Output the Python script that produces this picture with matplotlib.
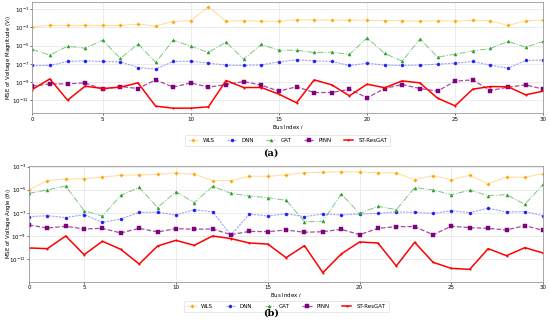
import numpy as np
import matplotlib
matplotlib.use('Agg')
import matplotlib.pyplot as plt
from matplotlib.ticker import FixedLocator, NullLocator

# bus indices (top panel starts at bus 1, bottom at bus 2)
bus_mag = list(range(1, 31))
bus_ang = list(range(2, 31))

# log10 of MSE, voltage magnitude
wls_mag = [-2.94, -2.79, -2.79, -2.79, -2.79, -2.79, -2.65, -2.83, -2.36, -2.25,
           -0.74, -2.32, -2.25, -2.32, -2.32, -2.17, -2.17, -2.21, -2.21, -2.21,
           -2.25, -2.25, -2.32, -2.25, -2.32, -2.21, -2.28, -2.79, -2.28, -2.21]
dnn_mag = [-7.19, -7.19, -6.75, -6.68, -6.75, -6.79, -7.41, -7.59, -6.75, -6.71,
           -6.93, -7.15, -7.19, -7.12, -6.79, -6.57, -6.68, -6.75, -7.19, -6.93,
           -7.15, -7.19, -7.15, -7.04, -6.93, -6.75, -7.15, -7.48, -6.64, -6.60]
gat_mag = [-5.43, -6.05, -5.07, -5.29, -4.41, -6.42, -4.81, -6.86, -4.41, -5.07,
           -5.76, -4.63, -6.49, -4.88, -5.51, -5.51, -5.76, -5.73, -5.98, -4.15,
           -5.87, -6.71, -4.26, -6.27, -5.95, -5.58, -5.32, -4.55, -5.18, -4.55]
pinn_mag = [-9.46, -9.21, -9.21, -9.10, -9.79, -9.50, -9.72, -8.77, -9.57, -9.10,
            -9.57, -9.28, -8.95, -9.35, -10.01, -9.53, -10.16, -10.16, -9.79, -10.74,
            -9.72, -9.28, -9.72, -10.01, -8.91, -8.77, -9.94, -9.57, -9.32, -9.79]
st_mag = [-9.83, -8.66, -11.00, -9.46, -9.72, -9.57, -9.10, -11.66, -11.88, -11.88,
          -11.73, -8.84, -9.61, -9.61, -10.34, -11.29, -8.77, -9.32, -10.52, -9.24,
          -9.64, -8.88, -9.10, -10.78, -11.62, -9.79, -9.50, -9.53, -10.41, -10.01]

# log10 of MSE, voltage angle
wls_ang = [-5.02, -4.21, -4.07, -4.04, -3.90, -3.75, -3.72, -3.66, -3.55, -3.66,
           -4.21, -4.21, -3.84, -3.84, -3.72, -3.52, -3.49, -3.43, -3.46, -3.52,
           -3.55, -4.13, -3.78, -4.13, -3.75, -4.50, -3.90, -3.92, -3.61]
dnn_ang = [-7.34, -7.25, -7.42, -7.16, -7.83, -7.54, -6.96, -6.96, -7.19, -6.73,
           -6.93, -8.92, -7.10, -7.28, -7.08, -7.34, -7.10, -7.19, -7.10, -7.05,
           -6.93, -6.96, -7.05, -6.82, -6.99, -6.61, -6.93, -6.90, -7.25]
gat_ang = [-5.31, -5.02, -4.68, -6.82, -7.28, -5.49, -4.79, -6.55, -5.17, -6.12,
           -4.71, -5.31, -5.54, -5.69, -5.92, -7.77, -7.74, -5.37, -7.05, -6.44,
           -6.73, -4.82, -5.02, -5.43, -5.05, -5.51, -5.43, -6.27, -4.53]
pinn_ang = [-8.06, -8.32, -8.17, -8.40, -8.35, -8.75, -8.35, -8.66, -8.38, -8.43,
            -8.40, -8.90, -8.61, -8.64, -8.49, -8.69, -8.64, -8.43, -8.90, -8.35,
            -8.20, -8.20, -8.90, -8.17, -8.29, -8.35, -8.49, -8.12, -8.52]
st_ang = [-10.05, -10.11, -9.01, -10.63, -9.47, -10.17, -11.44, -9.88, -9.39, -9.82,
          -9.01, -9.24, -9.62, -9.71, -10.89, -9.85, -12.19, -10.57, -9.53, -9.62,
          -11.61, -9.56, -11.29, -11.82, -11.90, -10.11, -10.72, -10.02, -10.49]

tick_labels = ['0', '5', '10', '15', '20', '25', '30']

# name, color, line rgba, linestyle, marker, linewidth
styles = [
    ('WLS', '#FFA500', (1.0, 0.65, 0.0, 0.35), '-', 'P', 0.8),
    ('DNN', '#2020FF', (0.2, 0.2, 1.0, 0.45), (0, (2, 1)), 'o', 0.8),
    ('GAT', '#2CA02C', (0.17, 0.63, 0.17, 0.6), '-.', '^', 0.7),
    ('PINN', '#800080', (0.5, 0.0, 0.5, 0.7), '--', 's', 0.9),
    ('ST-ResGAT', '#FF0000', (1.0, 0.0, 0.0, 1.0), '-', '.', 1.1),
]

fs = 4.0


def panel(ax, x, series, ylabel, ylim, yticks, xticks, label_x, leg_y):
    for (name, c, lc, ls, m, lw), vals in zip(styles, series):
        ax.plot(x, 10.0 ** np.array(vals), color=lc, linestyle=ls, linewidth=lw,
                marker=m, markersize=2.2, markerfacecolor=c, markeredgecolor=c,
                markeredgewidth=0.3, label=name)
    ax.set_yscale('log')
    ax.set_ylim(10 ** ylim[0], 10 ** ylim[1])
    ax.set_xlim(xticks[0], 30)
    ax.yaxis.set_major_locator(FixedLocator([10.0 ** t for t in yticks]))
    ax.yaxis.set_minor_locator(NullLocator())
    ax.set_xticks(xticks)
    ax.set_xticklabels(tick_labels)
    ax.tick_params(labelsize=fs, length=1.2, width=0.4, pad=1.0)
    ax.grid(True, color='#e4e4e4', linewidth=0.5)
    ax.set_axisbelow(True)
    for s in ax.spines.values():
        s.set_color('#999999')
        s.set_linewidth(0.6)
    ax.set_ylabel(ylabel, fontsize=fs)
    ax.yaxis.set_label_coords(label_x, 0.5)
    ax.set_xlabel('Bus Index $i$', fontsize=fs, labelpad=1)
    leg = ax.legend(loc='upper center', bbox_to_anchor=(0.5, leg_y), ncol=5,
                    fontsize=fs, frameon=True, handlelength=1.7,
                    columnspacing=2.2, borderpad=0.6, handletextpad=0.9)
    leg.get_frame().set_linewidth(0.4)
    leg.get_frame().set_edgecolor('#cccccc')


fig = plt.figure(figsize=(5.5, 3.26), dpi=100)
ax1 = fig.add_axes([0.0587, 0.652, 0.929, 0.3405])
ax2 = fig.add_axes([0.0527, 0.136, 0.935, 0.355])

panel(ax1, bus_mag, [wls_mag, dnn_mag, gat_mag, pinn_mag, st_mag],
      'MSE of Voltage Magnitude ($V_i$)', (-12.46, -0.26),
      [-11, -9, -7, -5, -3, -1], [1, 5, 10, 15, 20, 25, 30], -0.038, -0.165)
panel(ax2, bus_ang, [wls_ang, dnn_ang, gat_ang, pinn_ang, st_ang],
      r'MSE of Voltage Angle ($\theta_i$)', (-12.97, -2.94),
      [-11, -9, -7, -5, -3], [2, 5, 10, 15, 20, 25, 30], -0.032, -0.14)

fig.text(0.493, 0.53, '(a)', ha='center', va='center', fontsize=7,
         family='DejaVu Serif', fontweight='bold')
fig.text(0.493, 0.04, '(b)', ha='center', va='center', fontsize=7,
         family='DejaVu Serif', fontweight='bold')

fig.savefig('out.png', dpi=100)
